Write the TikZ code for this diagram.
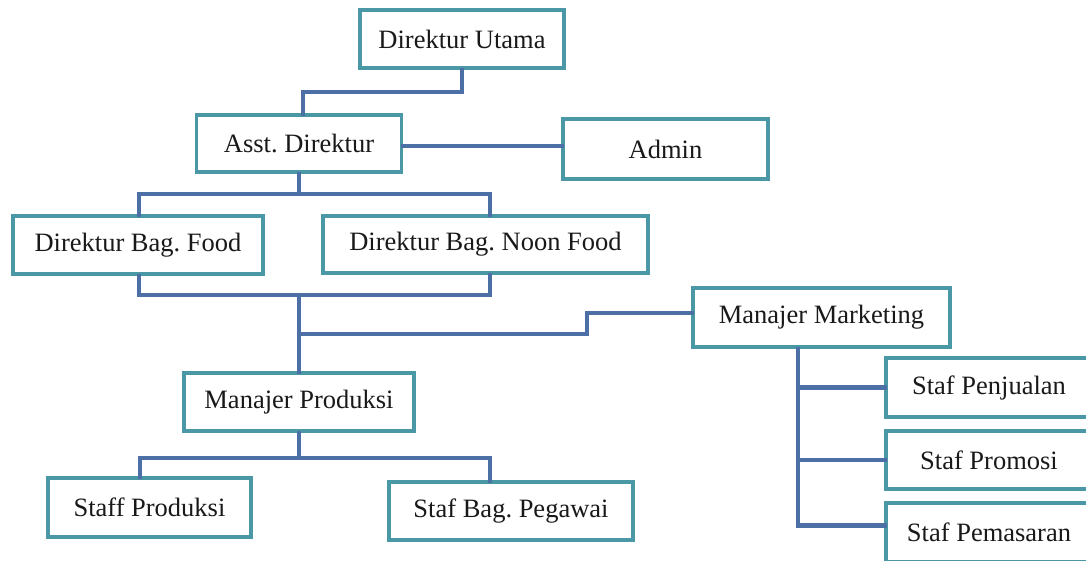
\documentclass[tikz,border=0pt]{standalone}
\usepackage{fontspec}
\setmainfont{Liberation Serif}
\definecolor{boxc}{RGB}{74,152,166}
\definecolor{linec}{RGB}{76,112,166}
\definecolor{txt}{RGB}{25,25,25}
\tikzset{
  orgbox/.style={draw=boxc, line width=3.5pt, fill=white, rectangle, inner sep=0pt,
    text=txt, font=\frenchspacing\fontsize{26.5}{30}\selectfont},
  conn/.style={draw=linec, line width=4.5pt, line cap=rect, line join=miter}
}
\begin{document}
\begin{tikzpicture}[x=1pt,y=-1pt]
\useasboundingbox (0,0) rectangle (1086,560);
\clip (0,0) rectangle (1086,560);
\coordinate (j1) at (299,194);
\coordinate (j2) at (299,295);
\coordinate (j3) at (299,334);
\coordinate (js) at (587,313);
\coordinate (j4) at (299,458);

\node[orgbox, minimum width=204, minimum height=58] (du) at (462,39) {Direktur Utama};
\node[orgbox, minimum width=205, minimum height=57] (ad) at (299,143.5) {Asst. Direktur};
\node[orgbox, minimum width=205, minimum height=60] (admin) at (665.5,149) {Admin};
\node[orgbox, minimum width=250, minimum height=58] (dbf) at (138,245) {Direktur Bag. Food};
\node[orgbox, minimum width=325, minimum height=57] (dbn) at (485.5,244.5) {Direktur Bag. Noon Food};
\node[orgbox, minimum width=257, minimum height=59] (mm) at (821.5,317.5) {Manajer Marketing};
\node[orgbox, minimum width=230, minimum height=58] (mp) at (299,402) {Manajer Produksi};
\node[orgbox, minimum width=203, minimum height=59] (sp) at (149.5,507.5) {Staff Produksi};
\node[orgbox, minimum width=244, minimum height=58] (sbp) at (511,511) {Staf Bag. Pegawai};
\node[orgbox, minimum width=206, minimum height=59] (spenj) at (989,387.5) {Staf Penjualan};
\node[orgbox, minimum width=206, minimum height=58] (sprom) at (989,460) {Staf Promosi};
\node[orgbox, minimum width=206, minimum height=59] (spem) at (989,532.5) {Staf Pemasaran};

\draw[conn] (du.south) -- ++(0,22) -| ([xshift=4]ad.north);
\draw[conn] (ad.east |- admin.west) ++(0,-3) -- ([yshift=3]admin.west);
\draw[conn] (ad.south) -- (j1);
\draw[conn] ([xshift=1]dbf.north) |- (j1) -| ([xshift=4.5]dbn.north);
\draw[conn] ([xshift=1]dbf.south) |- (j2) -| ([xshift=4.5]dbn.south);
\draw[conn] (j2) -- (mp.north);
\draw[conn] (j3) -| (js) -- (js -| mm.west);
\draw[conn] (mp.south) -- (j4);
\draw[conn] ([xshift=-9.5]sp.north) |- (j4) -| ([xshift=-21]sbp.north);
\coordinate (mv) at ([xshift=-23.5]mm.south);
\draw[conn] (mv) |- (spenj.west);
\draw[conn] (mv) |- (sprom.west);
\draw[conn] (mv) |- ([yshift=7]spem.west);
\end{tikzpicture}
\end{document}
